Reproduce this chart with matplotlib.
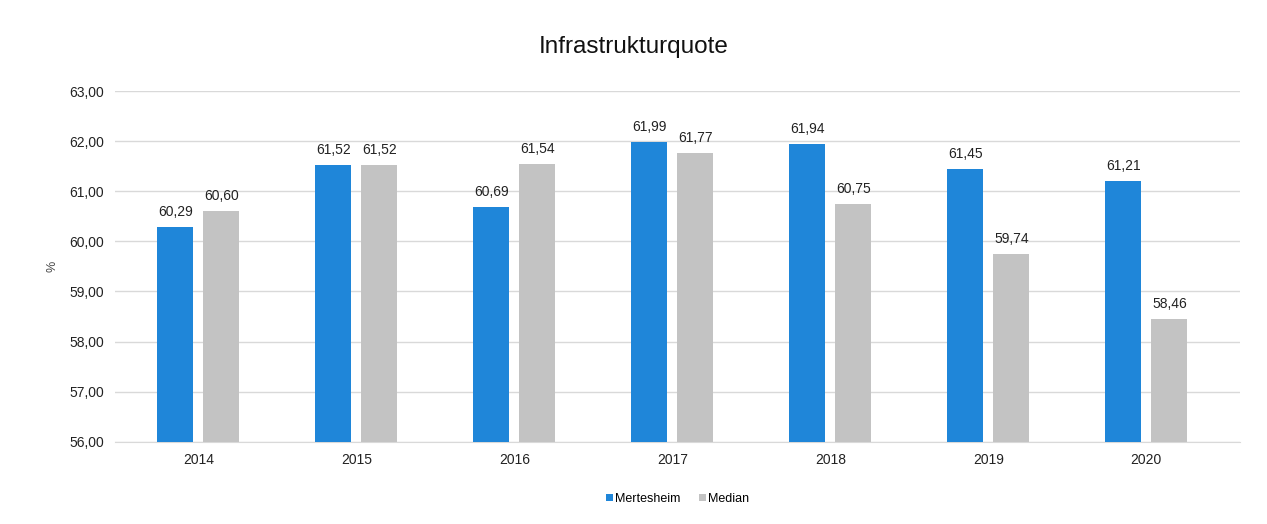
import matplotlib.pyplot as plt
import numpy as np

plt.rcParams['font.family'] = ['Liberation Sans', 'DejaVu Sans']

years = ['2014', '2015', '2016', '2017', '2018', '2019', '2020']
mertesheim = [60.29, 61.52, 60.69, 61.99, 61.94, 61.45, 61.21]
median = [60.60, 61.52, 61.54, 61.77, 60.75, 59.74, 58.46]
yticks = [56, 57, 58, 59, 60, 61, 62, 63]

blue = '#1f86d9'
grey = '#c3c3c3'


def fmt(v):
    return '{:.2f}'.format(v).replace('.', ',')


fig = plt.figure(figsize=(12.67, 5.24), dpi=100)
ax = fig.add_axes([0.091, 0.157, 0.888, 0.669])

x = np.arange(len(years))
w = 0.228
off = 0.146
b1 = ax.bar(x - off, mertesheim, w, color=blue, label='Mertesheim', zorder=3)
b2 = ax.bar(x + off, median, w, color=grey, label='Median', zorder=3)

for bars, vals in [(b1, mertesheim), (b2, median)]:
    for r, v in zip(bars, vals):
        ax.text(r.get_x() + r.get_width() / 2, v + 0.16, fmt(v),
                ha='center', va='bottom', fontsize=10, color='#222222')

ax.set_ylim(56, 63)
ax.set_xlim(-0.525, 6.595)
ax.set_yticks(yticks)
ax.set_yticklabels([fmt(t) for t in yticks], fontsize=10, color='#222222')
ax.set_xticks(x)
ax.set_xticklabels(years, fontsize=10, color='#222222')
ax.tick_params(length=0, pad=8)
ax.grid(axis='y', color='#d9d9d9', lw=1, zorder=0)
for s in ['top', 'right', 'left']:
    ax.spines[s].set_visible(False)
ax.spines['bottom'].set_color('#d9d9d9')
ax.set_ylabel('%', fontsize=9, color='#444444', labelpad=8)

fig.text(0.5, 0.91, 'Infrastrukturquote', ha='center', va='center', fontsize=17.5, color='#111111')

ax.legend(loc='upper center', bbox_to_anchor=(0.5, -0.115), ncol=2, frameon=False,
          fontsize=9, handlelength=0.5, handleheight=0.5, columnspacing=1.5, handletextpad=0.2)

fig.savefig('out.png', dpi=100)
